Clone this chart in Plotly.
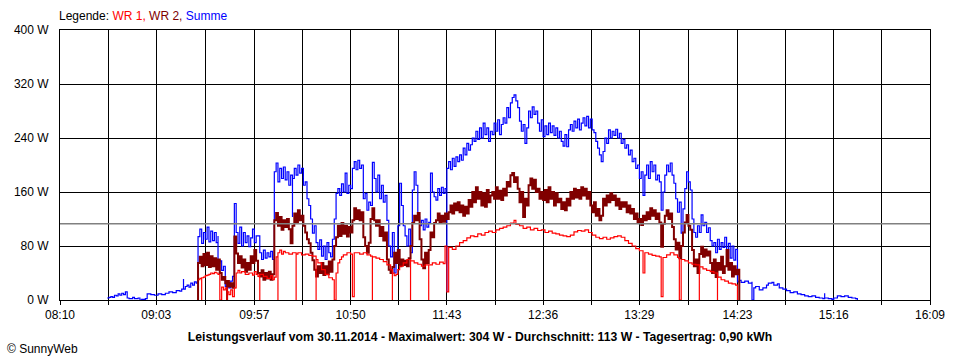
import plotly.graph_objects as go

# ---------------- data ----------------
x_tick_labels = ["08:10", "09:03", "09:57", "10:50", "11:43", "12:36", "13:29", "14:23", "15:16", "16:09"]
y_tick_values = [0, 80, 160, 240, 320, 400]
y_unit = " W"
average_w = 113
legend_names = ["WR 1", "WR 2", "Summe"]
series_colors = ["#ff0000", "#800000", "#0000ff"]
title_text = ("Leistungsverlauf vom 30.11.2014 - Maximalwert: 304 W - Durchschnitt: 113 W"
              " - Tagesertrag: 0,90 kWh")
footer_text = "© SunnyWeb"

summe = [
    ("08:36", 3), ("08:37", 4), ("08:38", 5), ("08:39", 4), ("08:40", 7), ("08:41", 6), ("08:42", 9),
    ("08:43", 7), ("08:44", 10), ("08:45", 8), ("08:46", 12), ("08:47", 3), ("08:48", 2), ("08:50", 4),
    ("08:51", 2), ("08:53", 3), ("08:54", 0), ("08:55", 1), ("08:57", 2), ("08:58", 9), ("09:00", 8),
    ("09:02", 7), ("09:04", 9), ("09:06", 8), ("09:08", 10), ("09:10", 12), ("09:12", 11), ("09:14", 14),
    ("09:16", 13), ("09:17", 16), ("09:18", 31), ("09:18", 16), ("09:19", 20), ("09:20", 22), ("09:21", 19),
    ("09:22", 25), ("09:23", 22), ("09:24", 27), ("09:25", 25), ("09:26", 28), ("09:26", 94), ("09:27", 105),
    ("09:28", 84), ("09:29", 100), ("09:30", 90), ("09:31", 108), ("09:32", 86), ("09:33", 102), ("09:34", 88),
    ("09:35", 100), ("09:36", 85), ("09:37", 95), ("09:37", 55), ("09:38", 58), ("09:39", 44), ("09:40", 50),
    ("09:41", 20), ("09:42", 24), ("09:43", 18), ("09:44", 28), ("09:45", 35), ("09:46", 40), ("09:46", 143),
    ("09:47", 100), ("09:48", 84), ("09:49", 108), ("09:50", 80), ("09:51", 100), ("09:52", 85), ("09:53", 95),
    ("09:54", 79), ("09:55", 92), ("09:56", 105), ("09:57", 85), ("09:58", 95), ("10:00", 70), ("10:01", 60),
    ("10:02", 74), ("10:03", 62), ("10:04", 70), ("10:05", 64), ("10:06", 72), ("10:07", 60), ("10:08", 190),
    ("10:09", 203), ("10:10", 175), ("10:11", 195), ("10:12", 180), ("10:13", 197), ("10:14", 178), ("10:15", 190),
    ("10:16", 170), ("10:17", 185), ("10:18", 123), ("10:18", 180), ("10:19", 195), ("10:20", 185), ("10:21", 200),
    ("10:22", 188), ("10:23", 195), ("10:24", 170), ("10:25", 175), ("10:26", 150), ("10:27", 140), ("10:28", 120),
    ("10:29", 99), ("10:30", 110), ("10:31", 85), ("10:32", 75), ("10:33", 89), ("10:34", 65), ("10:35", 80),
    ("10:36", 60), ("10:37", 85), ("10:38", 70), ("10:39", 64), ("10:40", 90), ("10:41", 120), ("10:42", 158),
    ("10:43", 165), ("10:44", 155), ("10:45", 172), ("10:46", 160), ("10:47", 188), ("10:48", 158), ("10:49", 170),
    ("10:50", 165), ("10:51", 195), ("10:52", 205), ("10:53", 193), ("10:54", 207), ("10:55", 195), ("10:56", 200),
    ("10:57", 150), ("10:58", 158), ("10:59", 133), ("11:00", 145), ("11:01", 140), ("11:02", 204), ("11:03", 180),
    ("11:04", 160), ("11:05", 185), ("11:06", 150), ("11:07", 170), ("11:08", 145), ("11:09", 155), ("11:10", 118),
    ("11:11", 80), ("11:12", 64), ("11:13", 100), ("11:14", 40), ("11:15", 60), ("11:16", 110), ("11:17", 173),
    ("11:18", 140), ("11:19", 110), ("11:20", 95), ("11:21", 80), ("11:22", 105), ("11:23", 70), ("11:24", 163),
    ("11:25", 190), ("11:26", 170), ("11:27", 123), ("11:28", 110), ("11:29", 118), ("11:30", 104), ("11:31", 120),
    ("11:32", 108), ("11:33", 115), ("11:34", 188), ("11:35", 160), ("11:36", 153), ("11:37", 148), ("11:38", 165),
    ("11:39", 155), ("11:40", 167), ("11:41", 158), ("11:42", 165), ("11:43", 12), ("11:43", 195), ("11:44", 205),
    ("11:45", 193), ("11:46", 210), ("11:47", 198), ("11:48", 212), ("11:49", 205), ("11:50", 215), ("11:51", 207),
    ("11:52", 225), ("11:53", 215), ("11:54", 232), ("11:55", 222), ("11:56", 230), ("11:57", 240), ("11:58", 235),
    ("11:59", 250), ("12:00", 238), ("12:01", 255), ("12:02", 240), ("12:03", 262), ("12:04", 245), ("12:05", 255),
    ("12:06", 235), ("12:07", 250), ("12:08", 245), ("12:09", 262), ("12:10", 250), ("12:11", 267), ("12:12", 245),
    ("12:13", 260), ("12:14", 270), ("12:15", 262), ("12:16", 285), ("12:17", 270), ("12:18", 292), ("12:19", 300),
    ("12:20", 304), ("12:21", 295), ("12:22", 285), ("12:23", 265), ("12:24", 250), ("12:25", 260), ("12:26", 232),
    ("12:27", 255), ("12:28", 280), ("12:29", 270), ("12:30", 286), ("12:31", 275), ("12:32", 280), ("12:33", 262),
    ("12:34", 250), ("12:35", 267), ("12:36", 242), ("12:37", 258), ("12:38", 245), ("12:39", 262), ("12:40", 248),
    ("12:41", 258), ("12:42", 244), ("12:43", 255), ("12:44", 240), ("12:45", 250), ("12:46", 235), ("12:47", 228),
    ("12:48", 245), ("12:49", 227), ("12:50", 252), ("12:51", 260), ("12:52", 250), ("12:53", 265), ("12:54", 255),
    ("12:55", 268), ("12:56", 252), ("12:57", 262), ("12:58", 270), ("12:59", 258), ("13:00", 272), ("13:01", 255),
    ("13:02", 268), ("13:03", 252), ("13:04", 248), ("13:05", 235), ("13:06", 225), ("13:07", 215), ("13:08", 205),
    ("13:09", 220), ("13:10", 240), ("13:11", 232), ("13:12", 252), ("13:13", 240), ("13:14", 250), ("13:15", 244),
    ("13:16", 253), ("13:17", 240), ("13:18", 247), ("13:19", 232), ("13:20", 238), ("13:21", 225), ("13:22", 230),
    ("13:23", 215), ("13:24", 222), ("13:25", 205), ("13:26", 210), ("13:27", 195), ("13:28", 200), ("13:29", 180),
    ("13:30", 190), ("13:31", 155), ("13:32", 185), ("13:33", 200), ("13:34", 180), ("13:35", 205), ("13:36", 190),
    ("13:37", 200), ("13:38", 178), ("13:39", 185), ("13:40", 175), ("13:41", 133), ("13:42", 160), ("13:43", 185),
    ("13:44", 200), ("13:45", 190), ("13:46", 203), ("13:47", 185), ("13:48", 173), ("13:49", 150), ("13:50", 130),
    ("13:51", 145), ("13:52", 99), ("13:53", 135), ("13:54", 165), ("13:55", 190), ("13:56", 175), ("13:57", 163),
    ("13:58", 120), ("13:59", 100), ("14:00", 93), ("14:01", 110), ("14:02", 100), ("14:03", 126), ("14:04", 110),
    ("14:05", 115), ("14:06", 100), ("14:07", 107), ("14:08", 88), ("14:09", 80), ("14:10", 85), ("14:11", 70),
    ("14:12", 90), ("14:13", 75), ("14:14", 85), ("14:15", 78), ("14:16", 93), ("14:17", 70), ("14:18", 84),
    ("14:19", 62), ("14:20", 80), ("14:21", 59), ("14:22", 75), ("14:23", 60), ("14:23", 27), ("14:24", 29),
    ("14:25", 26), ("14:27", 28), ("14:29", 25), ("14:31", 27), ("14:31", 0), ("14:32", 18), ("14:33", 20),
    ("14:35", 15), ("14:37", 18), ("14:39", 22), ("14:40", 25), ("14:42", 26), ("14:43", 22), ("14:45", 24),
    ("14:46", 18), ("14:48", 16), ("14:50", 14), ("14:52", 11), ("14:54", 12), ("14:56", 9), ("14:58", 8),
    ("15:00", 6), ("15:02", 5), ("15:04", 6), ("15:06", 4), ("15:08", 3), ("15:10", 2), ("15:11", 10),
    ("15:11", 3), ("15:13", 2), ("15:15", 1), ("15:16", 3), ("15:18", 6), ("15:20", 5), ("15:22", 6),
    ("15:24", 4), ("15:26", 3), ("15:28", 2), ("15:29", 0),
]

wr2 = [
    ("09:26", 0), ("09:26", 55), ("09:27", 64), ("09:28", 50), ("09:29", 68), ("09:30", 52), ("09:31", 70),
    ("09:32", 49), ("09:33", 65), ("09:34", 50), ("09:35", 62), ("09:36", 45), ("09:37", 60), ("09:38", 40),
    ("09:39", 30), ("09:40", 34), ("09:41", 25), ("09:42", 0), ("09:42", 28), ("09:43", 20), ("09:44", 25),
    ("09:45", 18), ("09:46", 30), ("09:46", 94), ("09:47", 69), ("09:48", 55), ("09:49", 65), ("09:50", 48),
    ("09:51", 60), ("09:52", 42), ("09:53", 55), ("09:54", 45), ("09:55", 65), ("09:56", 55), ("09:57", 74),
    ("09:58", 58), ("09:59", 40), ("10:00", 35), ("10:01", 44), ("10:02", 30), ("10:03", 40), ("10:04", 32),
    ("10:05", 42), ("10:06", 30), ("10:07", 38), ("10:08", 118), ("10:09", 129), ("10:10", 110), ("10:11", 123),
    ("10:12", 104), ("10:13", 118), ("10:14", 108), ("10:15", 120), ("10:16", 105), ("10:17", 84), ("10:18", 110),
    ("10:19", 128), ("10:20", 115), ("10:21", 133), ("10:22", 118), ("10:23", 125), ("10:24", 110), ("10:25", 100),
    ("10:26", 90), ("10:27", 84), ("10:28", 70), ("10:29", 59), ("10:30", 45), ("10:31", 35), ("10:32", 50),
    ("10:33", 40), ("10:34", 55), ("10:35", 37), ("10:36", 50), ("10:37", 38), ("10:38", 57), ("10:39", 42),
    ("10:40", 60), ("10:41", 80), ("10:42", 93), ("10:43", 110), ("10:44", 95), ("10:45", 114), ("10:46", 98),
    ("10:47", 110), ("10:48", 94), ("10:49", 108), ("10:50", 100), ("10:51", 118), ("10:52", 136), ("10:53", 120),
    ("10:54", 133), ("10:55", 118), ("10:56", 130), ("10:57", 93), ("10:58", 80), ("10:59", 70), ("11:00", 85),
    ("11:01", 120), ("11:02", 136), ("11:03", 118), ("11:04", 110), ("11:05", 118), ("11:06", 95), ("11:07", 108),
    ("11:08", 88), ("11:09", 100), ("11:10", 60), ("11:11", 45), ("11:12", 40), ("11:13", 49), ("11:14", 70),
    ("11:15", 55), ("11:16", 74), ("11:17", 50), ("11:18", 60), ("11:19", 52), ("11:20", 58), ("11:21", 50),
    ("11:22", 62), ("11:23", 80), ("11:24", 114), ("11:25", 125), ("11:26", 118), ("11:27", 129), ("11:28", 90),
    ("11:29", 60), ("11:30", 47), ("11:31", 70), ("11:32", 55), ("11:33", 74), ("11:34", 100), ("11:35", 93),
    ("11:36", 114), ("11:37", 118), ("11:38", 128), ("11:39", 115), ("11:40", 125), ("11:41", 116), ("11:42", 128),
    ("11:43", 120), ("11:44", 130), ("11:45", 140), ("11:46", 128), ("11:47", 143), ("11:48", 133), ("11:49", 145),
    ("11:50", 130), ("11:51", 140), ("11:52", 125), ("11:53", 138), ("11:54", 128), ("11:55", 148), ("11:56", 138),
    ("11:57", 160), ("11:58", 145), ("11:59", 167), ("12:00", 150), ("12:01", 160), ("12:02", 140), ("12:03", 158),
    ("12:04", 138), ("12:05", 163), ("12:06", 145), ("12:07", 155), ("12:08", 160), ("12:09", 150), ("12:10", 167),
    ("12:11", 150), ("12:12", 162), ("12:13", 148), ("12:14", 165), ("12:15", 155), ("12:16", 175), ("12:17", 168),
    ("12:18", 185), ("12:19", 188), ("12:20", 175), ("12:21", 182), ("12:22", 165), ("12:23", 145), ("12:24", 160),
    ("12:25", 123), ("12:26", 150), ("12:27", 140), ("12:28", 170), ("12:29", 180), ("12:30", 165), ("12:31", 178),
    ("12:32", 160), ("12:33", 165), ("12:34", 150), ("12:35", 160), ("12:36", 148), ("12:37", 163), ("12:38", 145),
    ("12:39", 167), ("12:40", 150), ("12:41", 160), ("12:42", 140), ("12:43", 158), ("12:44", 145), ("12:45", 150),
    ("12:46", 135), ("12:47", 145), ("12:48", 133), ("12:49", 150), ("12:50", 140), ("12:51", 160), ("12:52", 150),
    ("12:53", 165), ("12:54", 152), ("12:55", 163), ("12:56", 150), ("12:57", 167), ("12:58", 155), ("12:59", 165),
    ("13:00", 150), ("13:01", 160), ("13:02", 140), ("13:03", 130), ("13:04", 145), ("13:05", 125), ("13:06", 135),
    ("13:07", 118), ("13:08", 125), ("13:09", 150), ("13:10", 140), ("13:11", 155), ("13:12", 145), ("13:13", 158),
    ("13:14", 148), ("13:15", 155), ("13:16", 140), ("13:17", 150), ("13:18", 135), ("13:19", 145), ("13:20", 138),
    ("13:21", 145), ("13:22", 130), ("13:23", 140), ("13:24", 128), ("13:25", 135), ("13:26", 120), ("13:27", 128),
    ("13:28", 115), ("13:29", 120), ("13:30", 111), ("13:31", 125), ("13:32", 118), ("13:33", 130), ("13:34", 120),
    ("13:35", 136), ("13:36", 125), ("13:37", 133), ("13:38", 120), ("13:39", 128), ("13:40", 115), ("13:41", 79),
    ("13:42", 113), ("13:43", 125), ("13:44", 133), ("13:45", 120), ("13:46", 128), ("13:47", 108), ("13:48", 90),
    ("13:49", 75), ("13:50", 85), ("13:51", 62), ("13:52", 80), ("13:53", 100), ("13:54", 115), ("13:55", 126),
    ("13:56", 110), ("13:57", 104), ("13:58", 74), ("13:59", 50), ("14:00", 60), ("14:01", 40), ("14:02", 68),
    ("14:03", 79), ("14:04", 64), ("14:05", 75), ("14:06", 66), ("14:07", 72), ("14:08", 55), ("14:09", 40),
    ("14:10", 60), ("14:11", 34), ("14:12", 55), ("14:13", 45), ("14:14", 64), ("14:15", 40), ("14:16", 50),
    ("14:17", 74), ("14:18", 45), ("14:19", 55), ("14:20", 35), ("14:21", 50), ("14:22", 38), ("14:23", 45),
    ("14:24", 0),
]

wr1 = [
    ("09:26", 30), ("09:27", 32), ("09:28", 0), ("09:28", 33), ("09:29", 34), ("09:30", 36), ("09:31", 37),
    ("09:32", 38), ("09:33", 40), ("09:34", 39), ("09:35", 41), ("09:36", 40), ("09:37", 38), ("09:38", 30),
    ("09:38", 0), ("09:39", 19), ("09:40", 15), ("09:41", 18), ("09:42", 0), ("09:42", 12), ("09:43", 8),
    ("09:44", 15), ("09:45", 5), ("09:46", 18), ("09:47", 40), ("09:48", 44), ("09:49", 40), ("09:50", 42),
    ("09:52", 38), ("09:54", 40), ("09:56", 37), ("09:57", 42), ("09:58", 38), ("09:59", 35), ("10:00", 0),
    ("10:00", 38), ("10:02", 35), ("10:04", 32), ("10:06", 36), ("10:07", 30), ("10:08", 34), ("10:09", 64),
    ("10:10", 0), ("10:10", 70), ("10:11", 74), ("10:12", 68), ("10:13", 72), ("10:14", 70), ("10:16", 68),
    ("10:18", 70), ("10:20", 0), ("10:20", 68), ("10:21", 70), ("10:23", 67), ("10:25", 68), ("10:27", 66),
    ("10:29", 65), ("10:31", 0), ("10:31", 60), ("10:32", 55), ("10:34", 45), ("10:36", 38), ("10:38", 33),
    ("10:40", 30), ("10:41", 0), ("10:42", 40), ("10:43", 55), ("10:44", 60), ("10:45", 64), ("10:46", 67),
    ("10:48", 70), ("10:50", 68), ("10:51", 5), ("10:52", 70), ("10:53", 70), ("10:55", 68), ("10:57", 70),
    ("10:59", 67), ("11:01", 65), ("11:02", 0), ("11:02", 64), ("11:04", 62), ("11:06", 60), ("11:08", 57),
    ("11:10", 52), ("11:12", 45), ("11:13", 0), ("11:13", 40), ("11:14", 36), ("11:15", 38), ("11:16", 45),
    ("11:17", 50), ("11:19", 55), ("11:21", 60), ("11:23", 0), ("11:23", 58), ("11:25", 55), ("11:27", 53),
    ("11:29", 50), ("11:31", 52), ("11:33", 0), ("11:33", 52), ("11:35", 55), ("11:37", 53), ("11:39", 56),
    ("11:41", 54), ("11:42", 80), ("11:43", 12), ("11:44", 78), ("11:46", 75), ("11:48", 80), ("11:50", 85),
    ("11:52", 88), ("11:54", 92), ("11:56", 95), ("11:58", 94), ("12:00", 98), ("12:02", 96), ("12:04", 100),
    ("12:06", 102), ("12:08", 100), ("12:10", 104), ("12:12", 106), ("12:14", 108), ("12:16", 110), ("12:18", 114),
    ("12:20", 118), ("12:21", 112), ("12:23", 110), ("12:25", 106), ("12:27", 108), ("12:29", 104), ("12:31", 106),
    ("12:33", 103), ("12:35", 104), ("12:37", 100), ("12:39", 102), ("12:41", 99), ("12:43", 98), ("12:45", 96),
    ("12:47", 95), ("12:49", 94), ("12:51", 96), ("12:53", 101), ("12:55", 103), ("12:57", 102), ("12:59", 104),
    ("13:01", 100), ("13:03", 96), ("13:05", 93), ("13:07", 91), ("13:09", 93), ("13:11", 90), ("13:13", 92),
    ("13:15", 94), ("13:17", 95), ("13:19", 93), ("13:21", 88), ("13:23", 84), ("13:25", 80), ("13:27", 76),
    ("13:29", 73), ("13:31", 70), ("13:31", 40), ("13:32", 70), ("13:34", 68), ("13:36", 66), ("13:38", 65),
    ("13:40", 64), ("13:41", 5), ("13:42", 63), ("13:44", 67), ("13:46", 70), ("13:48", 67), ("13:50", 63),
    ("13:51", 0), ("13:52", 60), ("13:54", 58), ("13:56", 55), ("13:58", 53), ("14:00", 52), ("14:02", 0),
    ("14:02", 49), ("14:04", 46), ("14:06", 44), ("14:08", 42), ("14:10", 40), ("14:12", 0), ("14:12", 34),
    ("14:14", 30), ("14:16", 28), ("14:18", 25), ("14:20", 24), ("14:22", 22), ("14:23", 0),
]


def to_min(s):
    h, m = s.split(":")
    return int(h) * 60 + int(m)


label_min = [to_min(t) for t in x_tick_labels]
grid_vals, grid_text = [], []
for i in range(len(label_min) - 1):
    grid_vals += [label_min[i], (label_min[i] + label_min[i + 1]) / 2]
    grid_text += [x_tick_labels[i], ""]
grid_vals.append(label_min[-1])
grid_text.append(x_tick_labels[-1])

FONT = "Liberation Sans"

fig = go.Figure()
for name, color, data, w in [(legend_names[2], series_colors[2], summe, 1.2),
                             (legend_names[1], series_colors[1], wr2, 2),
                             (legend_names[0], series_colors[0], wr1, 1.2)]:
    fig.add_trace(go.Scatter(
        x=[to_min(t) for t, _ in data], y=[v for _, v in data], name=name,
        mode="lines", line=dict(color=color, width=w, shape="hv"),
    ))

fig.add_shape(type="line", xref="paper", x0=0, x1=1, yref="y", y0=average_w, y1=average_w,
              line=dict(color="#808080", width=1.5))

legend_html = "Legende: " + " ".join(
    f"<span style='color:{c}'>{n}{',' if i < 2 else ''}</span>"
    for i, (n, c) in enumerate(zip(legend_names, series_colors)))
fig.add_annotation(text=legend_html, xref="paper", yref="paper", x=-0.003, y=1.052,
                   xanchor="left", yanchor="middle", showarrow=False,
                   font=dict(family=FONT, size=12, color="black"))
fig.add_annotation(text=footer_text, xref="paper", yref="paper", x=-0.063, y=-0.18,
                   xanchor="left", yanchor="middle", showarrow=False,
                   font=dict(family=FONT, size=12, color="black"))

fig.update_layout(
    width=960, height=360,
    margin=dict(l=60, r=30, t=30, b=60),
    paper_bgcolor="white", plot_bgcolor="white",
    showlegend=False,
    title=dict(text=f"<b>{title_text}</b>", x=0.5, xref="container", xanchor="center",
               y=1 - 337 / 360, yref="container", yanchor="middle",
               font=dict(family=FONT, size=12.2, color="black")),
    xaxis=dict(range=[label_min[0], label_min[-1]], tickmode="array", tickvals=grid_vals, ticktext=grid_text,
               showgrid=True, gridcolor="black", gridwidth=1, zeroline=False,
               showline=True, linecolor="black", linewidth=1, mirror=True,
               ticks="outside", ticklen=4, tickcolor="black",
               tickfont=dict(family=FONT, size=12, color="black"), layer="above traces"),
    yaxis=dict(range=[0, 400], tickmode="array", tickvals=y_tick_values,
               ticktext=[f"{v}{y_unit}" for v in y_tick_values],
               showgrid=True, gridcolor="black", gridwidth=1, zeroline=False,
               showline=True, linecolor="black", linewidth=1, mirror=True,
               ticks="outside", ticklen=8, tickcolor="white",
               tickfont=dict(family=FONT, size=12, color="black"), layer="above traces"),
)

fig.write_html("out.html", config={"displayModeBar": False},
               post_script="document.body.style.margin='0';document.body.style.overflow='hidden';")
